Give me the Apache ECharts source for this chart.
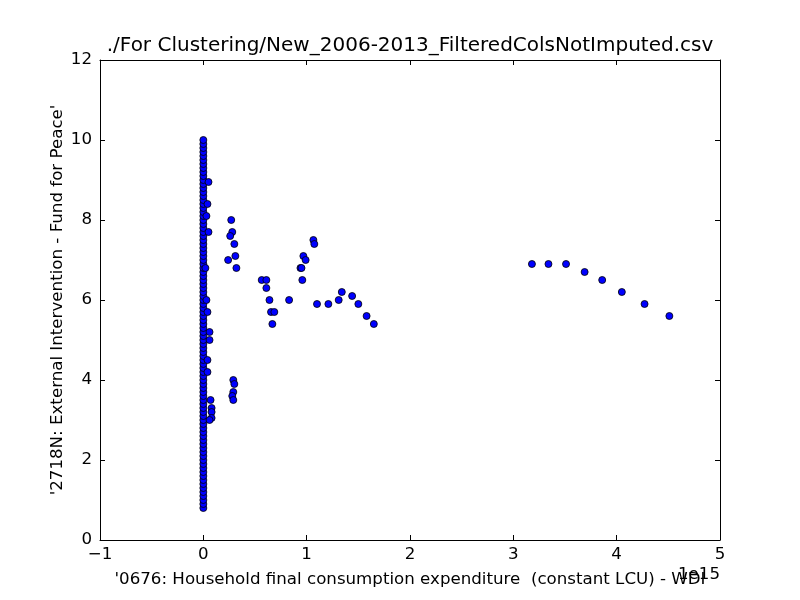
<!DOCTYPE html>
<html>
<head>
<meta charset="utf-8">
<script src="https://cdn.jsdelivr.net/npm/echarts@6/dist/echarts.min.js"></script>
<style>
  html, body { margin: 0; padding: 0; background: #fff; }
  #chart { width: 800px; height: 600px; }
</style>
</head>
<body>
<div id="chart"></div>
<script>
// x values are in units of 1e15 (offset shown at bottom right)
var columnY = [0.8, 0.9, 1.0, 1.1, 1.2, 1.3, 1.4, 1.5, 1.6, 1.7, 1.8, 1.9,
  2.0, 2.1, 2.2, 2.3, 2.4, 2.5, 2.6, 2.7, 2.8, 2.9, 3.0, 3.1, 3.2, 3.3, 3.4, 3.5,
  3.6, 3.7, 3.8, 3.9, 4.0, 4.1, 4.2, 4.3, 4.4, 4.5, 4.6, 4.7, 4.8, 4.9, 5.0, 5.1,
  5.2, 5.3, 5.4, 5.5, 5.6, 5.7, 5.8, 5.9, 6.0, 6.1, 6.2, 6.3, 6.4, 6.5, 6.6, 6.7,
  6.8, 6.9, 7.0, 7.1, 7.2, 7.3, 7.4, 7.5, 7.6, 7.7, 7.8, 7.9, 8.0, 8.1, 8.2, 8.3,
  8.4, 8.5, 8.6, 8.7, 8.8, 8.9, 9.0, 9.1, 9.2, 9.3, 9.4, 9.5, 9.6, 9.7, 9.8, 9.9, 10.0];

var nearZeroX = [0.05, 0.04, 0.03, 0.05, 0.02, 0.03, 0.04, 0.06, 0.06, 0.04, 0.04, 0.07, 0.08, 0.08, 0.08, 0.06];
var nearZeroY = [8.95, 8.4, 8.1, 7.7, 6.8, 6.0, 5.7, 5.2, 5.0, 4.5, 4.2, 3.5, 3.3, 3.2, 3.05, 3.0];

var otherX = [0.27, 0.28, 0.26, 0.30, 0.31, 0.24, 0.32,
  0.29, 0.30, 0.29, 0.28, 0.29,
  0.565, 0.61, 0.61, 0.64, 0.655, 0.687, 0.668, 0.83,
  1.065, 1.074, 0.968, 0.99, 0.94, 0.95, 0.958,
  1.10, 1.21, 1.31, 1.34, 1.44, 1.50, 1.58, 1.65,
  3.18, 3.34, 3.51, 3.69, 3.86, 4.05, 4.27, 4.51];
var otherY = [8.0, 7.7, 7.6, 7.4, 7.1, 7.0, 6.8,
  4.0, 3.9, 3.7, 3.6, 3.5,
  6.5, 6.5, 6.3, 6.0, 5.7, 5.7, 5.4, 6.0,
  7.5, 7.4, 7.1, 7.0, 6.8, 6.8, 6.5,
  5.9, 5.9, 6.0, 6.2, 6.1, 5.9, 5.6, 5.4,
  6.9, 6.9, 6.9, 6.7, 6.5, 6.2, 5.9, 5.6];

var xTicks = [-1, 0, 1, 2, 3, 4, 5];
var yTicks = [0, 2, 4, 6, 8, 10, 12];

var points = [];
columnY.forEach(function (y) { points.push([0, y]); });
nearZeroX.forEach(function (x, i) { points.push([x, nearZeroY[i]]); });
otherX.forEach(function (x, i) { points.push([x, otherY[i]]); });

var font = 'DejaVu Sans';
var fs = 16.67;
var fmtMinus = function (v) { return v < 0 ? '\u2212' + Math.abs(v) : String(v); };

var axisCommon = {
  axisLine: { show: true, onZero: false, lineStyle: { color: '#000', width: 1 } },
  axisTick: { show: true, inside: true, length: 5, lineStyle: { color: '#000' } },
  splitLine: { show: false }
};

var chart = echarts.init(document.getElementById('chart'), null, { renderer: 'canvas' });
chart.setOption({
  animation: false,
  backgroundColor: '#fff',
  grid: { left: 100, right: 80, top: 60, bottom: 60, containLabel: false },
  xAxis: [
    Object.assign({}, axisCommon, {
      type: 'value', min: xTicks[0], max: xTicks[xTicks.length - 1], interval: 1,
      position: 'bottom',
      axisLabel: { color: '#000', fontFamily: font, fontSize: fs, margin: 6, formatter: fmtMinus },
      name: "'0676: Household final consumption expenditure  (constant LCU) - WDI",
      nameLocation: 'middle', nameGap: 31, nameMoveOverlap: false,
      nameTextStyle: { color: '#000', fontFamily: font, fontSize: fs }
    }),
    Object.assign({}, axisCommon, {
      type: 'value', min: xTicks[0], max: xTicks[xTicks.length - 1], interval: 1,
      position: 'top', axisLabel: { show: false }
    })
  ],
  yAxis: [
    Object.assign({}, axisCommon, {
      type: 'value', min: yTicks[0], max: yTicks[yTicks.length - 1], interval: 2,
      position: 'left',
      axisLabel: { color: '#000', fontFamily: font, fontSize: fs, margin: 8 },
      name: "'2718N: External Intervention - Fund for Peace'",
      nameLocation: 'middle', nameGap: 34, nameMoveOverlap: false,
      nameTextStyle: { color: '#000', fontFamily: font, fontSize: fs }
    }),
    Object.assign({}, axisCommon, {
      type: 'value', min: yTicks[0], max: yTicks[yTicks.length - 1], interval: 2,
      position: 'right', axisLabel: { show: false }
    })
  ],
  graphic: [
    {
      type: 'text', x: 410, y: 36,
      style: { text: './For Clustering/New_2006-2013_FilteredColsNotImputed.csv',
        fill: '#000', font: '20px "' + font + '"', align: 'center', textAlign: 'center' }
    },
    {
      type: 'text', x: 720, y: 566,
      style: { text: '1e15', fill: '#000', font: fs + 'px "' + font + '"', align: 'right', textAlign: 'right' }
    }
  ],
  series: [{
    type: 'scatter',
    xAxisIndex: 0, yAxisIndex: 0,
    data: points,
    symbol: 'circle',
    symbolSize: 7,
    itemStyle: { color: '#0000ff', borderColor: '#000', borderWidth: 0.8, opacity: 1 }
  }]
});
</script>
</body>
</html>
